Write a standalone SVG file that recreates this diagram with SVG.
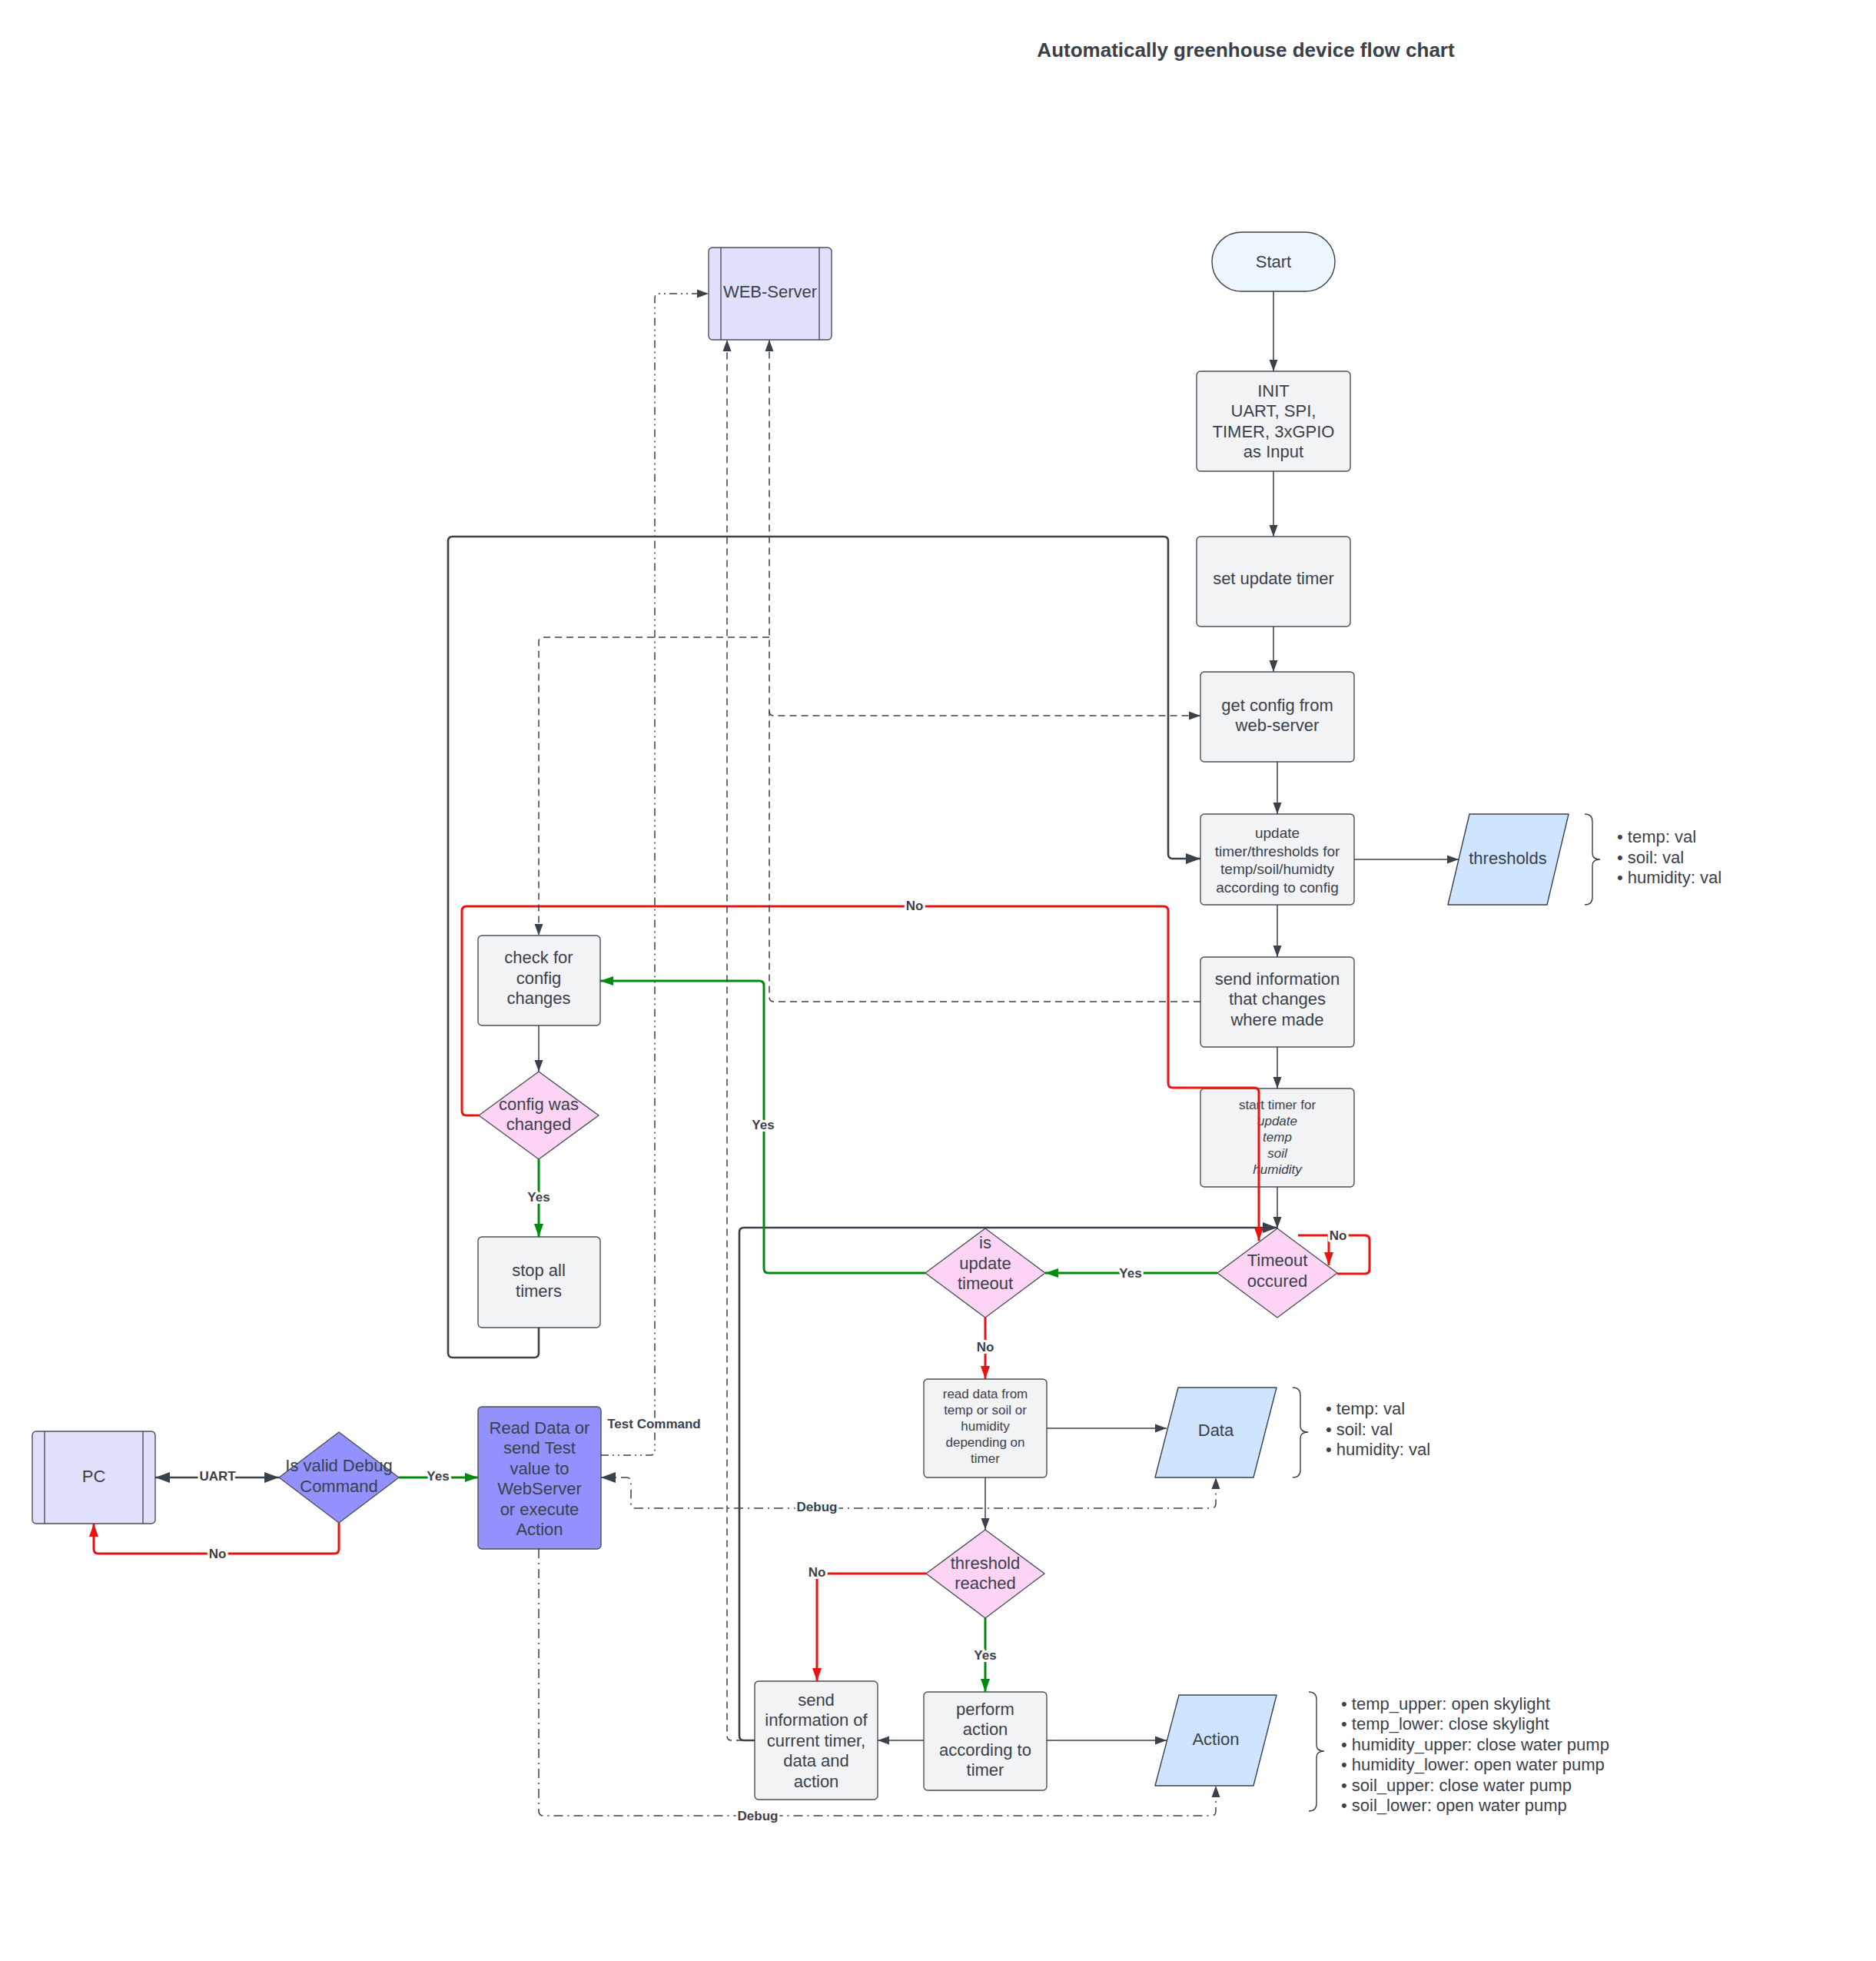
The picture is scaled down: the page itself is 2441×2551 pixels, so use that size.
<svg xmlns="http://www.w3.org/2000/svg" width="2441" height="2551" viewBox="0 0 2441 2551">
<style>
.bg{fill:#ffffff}
.proc{fill:#f2f3f5;stroke:#4b5058;stroke-width:1.4}
.dia{fill:#fdd4f3;stroke:#4b5058;stroke-width:1.4}
.io{fill:#cfe4ff;stroke:#3a414a;stroke-width:1.4}
.sub{fill:#dfe0fc;stroke:#4b5058;stroke-width:1.4}
.purp{fill:#9391fd;stroke:#4b5058;stroke-width:1.4}
.start{fill:#edf5ff;stroke:#3a414a;stroke-width:1.4}
.brace{fill:none;stroke:#3a414a;stroke-width:1.4}
text{font-family:"Liberation Sans",Arial,sans-serif;fill:#3a414a}
.t{font-size:22px;text-anchor:middle}
.t19{font-size:19px;text-anchor:middle}
.t17{font-size:17px;text-anchor:middle}
.bl{font-size:22px}
.lbl{font-size:17px;font-weight:bold;text-anchor:middle;stroke:#ffffff;stroke-width:6px;paint-order:stroke;stroke-linejoin:round}
.title{font-size:26px;font-weight:bold;text-anchor:middle}
.c{fill:none;stroke:#3a414a;stroke-width:1.5}
.ck{fill:none;stroke:#3a414a;stroke-width:2.6}
.cr{fill:none;stroke:#e81313;stroke-width:3}
.cg{fill:none;stroke:#008a0e;stroke-width:3}
.cd{fill:none;stroke:#3a414a;stroke-width:1.5;stroke-dasharray:9 6}
.cdd{fill:none;stroke:#3a414a;stroke-width:1.5;stroke-dasharray:10 5 2 5 2 5}
.cdb{fill:none;stroke:#3a414a;stroke-width:1.5;stroke-dasharray:12 6 2 6}
</style>
<defs>
<marker id="aD" markerUnits="userSpaceOnUse" markerWidth="16" markerHeight="12" refX="15" refY="6" orient="auto-start-reverse"><path d="M0,0.5 L15,6 L0,11.5 z" fill="#3a414a"/></marker>
<marker id="aK" markerUnits="userSpaceOnUse" markerWidth="20" markerHeight="16" refX="19" refY="8" orient="auto-start-reverse"><path d="M0,1 L19,8 L0,15 z" fill="#3a414a"/></marker>
<marker id="aR" markerUnits="userSpaceOnUse" markerWidth="18" markerHeight="14" refX="17" refY="7" orient="auto-start-reverse"><path d="M0,1 L17,7 L0,13 z" fill="#e81313"/></marker>
<marker id="aG" markerUnits="userSpaceOnUse" markerWidth="18" markerHeight="14" refX="17" refY="7" orient="auto-start-reverse"><path d="M0,1 L17,7 L0,13 z" fill="#008a0e"/></marker>
</defs>
<rect class="bg" x="0" y="0" width="2441" height="2551"/>
<text class="title" x="1621" y="74">Automatically greenhouse device flow chart</text>

<g id="start">
<rect class="start" x="1577" y="302" width="160" height="77" rx="38.5"/>
<text class="t" x="1657" y="348">Start</text>
</g>
<g id="init">
<rect class="proc" x="1557" y="483" width="200" height="130" rx="5"/>
<text class="t" x="1657" y="516">INIT</text>
<text class="t" x="1657" y="542">UART, SPI,</text>
<text class="t" x="1657" y="569">TIMER, 3xGPIO</text>
<text class="t" x="1657" y="595">as Input</text>
</g>
<g id="set-update-timer">
<rect class="proc" x="1557" y="698" width="200" height="117" rx="5"/>
<text class="t" x="1657" y="760">set update timer</text>
</g>
<g id="get-config">
<rect class="proc" x="1562" y="874" width="200" height="117" rx="5"/>
<text class="t" x="1662" y="925">get config from</text>
<text class="t" x="1662" y="951">web-server</text>
</g>
<g id="update-thresholds">
<rect class="proc" x="1562" y="1059" width="200" height="118" rx="5"/>
<text class="t19" x="1662" y="1090">update</text>
<text class="t19" x="1662" y="1114">timer/thresholds for</text>
<text class="t19" x="1662" y="1137">temp/soil/humidty</text>
<text class="t19" x="1662" y="1161">according to config</text>
</g>
<g id="thresholds">
<path class="io" d="M1912,1059 H2041 L2013,1177 H1884 Z" stroke-linejoin="round"/>
<text class="t" x="1962" y="1124">thresholds</text>
</g>
<g id="thresholds-list">
<path class="brace" d="M2062,1059 Q2072,1059 2072,1069 V1110 Q2072,1118 2082,1118 Q2072,1118 2072,1126 V1167 Q2072,1177 2062,1177"/>
<text class="bl" x="2104" y="1096">• temp: val</text>
<text class="bl" x="2104" y="1123">• soil: val</text>
<text class="bl" x="2104" y="1149">• humidity: val</text>
</g>
<g id="send-changes">
<rect class="proc" x="1562" y="1245" width="200" height="117" rx="5"/>
<text class="t" x="1662" y="1281">send information</text>
<text class="t" x="1662" y="1307">that changes</text>
<text class="t" x="1662" y="1334">where made</text>
</g>
<g id="start-timer">
<rect class="proc" x="1562" y="1416" width="200" height="128" rx="5"/>
<text class="t17" x="1662" y="1443">start timer for</text>
<text class="t17" x="1662" y="1464" font-style="italic">update</text>
<text class="t17" x="1662" y="1485" font-style="italic">temp</text>
<text class="t17" x="1662" y="1506" font-style="italic">soil</text>
<text class="t17" x="1662" y="1527" font-style="italic">humidity</text>
</g>
<g id="timeout-occured">
<path class="dia" d="M1662,1598 L1740,1656 L1662,1714 L1584,1656 Z" stroke-linejoin="round"/>
<text class="t" x="1662" y="1647">Timeout</text>
<text class="t" x="1662" y="1674">occured</text>
</g>
<g id="is-update-timeout">
<path class="dia" d="M1282,1598 L1360,1656 L1282,1714 L1204,1656 Z" stroke-linejoin="round"/>
<text class="t" x="1282" y="1624">is</text>
<text class="t" x="1282" y="1651">update</text>
<text class="t" x="1282" y="1677">timeout</text>
</g>
<g id="check-config">
<rect class="proc" x="622" y="1217" width="159" height="117" rx="5"/>
<text class="t" x="701" y="1253">check for</text>
<text class="t" x="701" y="1280">config</text>
<text class="t" x="701" y="1306">changes</text>
</g>
<g id="config-changed">
<path class="dia" d="M701,1394 L779,1451 L701,1508 L623,1451 Z" stroke-linejoin="round"/>
<text class="t" x="701" y="1444">config was</text>
<text class="t" x="701" y="1470">changed</text>
</g>
<g id="stop-timers">
<rect class="proc" x="622" y="1609" width="159" height="118" rx="5"/>
<text class="t" x="701" y="1660">stop all</text>
<text class="t" x="701" y="1687">timers</text>
</g>
<g id="web-server">
<rect class="sub" x="922" y="322" width="160" height="120" rx="5"/>
<line x1="938" y1="322" x2="938" y2="442" stroke="#4b5058" stroke-width="1.4"/>
<line x1="1066" y1="322" x2="1066" y2="442" stroke="#4b5058" stroke-width="1.4"/>
<text class="t" x="1002" y="387">WEB-Server</text>
</g>
<g id="pc">
<rect class="sub" x="42" y="1862" width="160" height="120" rx="5"/>
<line x1="58" y1="1862" x2="58" y2="1982" stroke="#4b5058" stroke-width="1.4"/>
<line x1="186" y1="1862" x2="186" y2="1982" stroke="#4b5058" stroke-width="1.4"/>
<text class="t" x="122" y="1928">PC</text>
</g>
<g id="valid-debug">
<path class="purp" d="M441,1863 L519,1922 L441,1981 L363,1922 Z" stroke-linejoin="round"/>
<text class="t" x="441" y="1914">Is valid Debug</text>
<text class="t" x="441" y="1941">Command</text>
</g>
<g id="read-or-send">
<rect class="purp" x="622" y="1830" width="160" height="185" rx="5"/>
<text class="t" x="702" y="1865">Read Data or</text>
<text class="t" x="702" y="1891">send Test</text>
<text class="t" x="702" y="1918">value to</text>
<text class="t" x="702" y="1944">WebServer</text>
<text class="t" x="702" y="1971">or execute</text>
<text class="t" x="702" y="1997">Action</text>
</g>
<g id="read-data">
<rect class="proc" x="1202" y="1794" width="160" height="128" rx="5"/>
<text class="t17" x="1282" y="1819">read data from</text>
<text class="t17" x="1282" y="1840">temp or soil or</text>
<text class="t17" x="1282" y="1861">humidity</text>
<text class="t17" x="1282" y="1882">depending on</text>
<text class="t17" x="1282" y="1903">timer</text>
</g>
<g id="data">
<path class="io" d="M1533,1805 H1661 L1631,1922 H1503 Z" stroke-linejoin="round"/>
<text class="t" x="1582" y="1868">Data</text>
</g>
<g id="data-list">
<path class="brace" d="M1682,1805 Q1692,1805 1692,1815 V1855 Q1692,1863 1702,1863 Q1692,1863 1692,1871 V1912 Q1692,1922 1682,1922"/>
<text class="bl" x="1725" y="1840">• temp: val</text>
<text class="bl" x="1725" y="1867">• soil: val</text>
<text class="bl" x="1725" y="1893">• humidity: val</text>
</g>
<g id="threshold-reached">
<path class="dia" d="M1282,1990 L1359,2047 L1282,2105 L1205,2047 Z" stroke-linejoin="round"/>
<text class="t" x="1282" y="2041">threshold</text>
<text class="t" x="1282" y="2067">reached</text>
</g>
<g id="send-current">
<rect class="proc" x="982" y="2187" width="160" height="154" rx="5"/>
<text class="t" x="1062" y="2219">send</text>
<text class="t" x="1062" y="2245">information of</text>
<text class="t" x="1062" y="2272">current timer,</text>
<text class="t" x="1062" y="2298">data and</text>
<text class="t" x="1062" y="2325">action</text>
</g>
<g id="perform-action">
<rect class="proc" x="1202" y="2201" width="160" height="128" rx="5"/>
<text class="t" x="1282" y="2231">perform</text>
<text class="t" x="1282" y="2257">action</text>
<text class="t" x="1282" y="2284">according to</text>
<text class="t" x="1282" y="2310">timer</text>
</g>
<g id="action">
<path class="io" d="M1534,2205 H1661 L1631,2323 H1503 Z" stroke-linejoin="round"/>
<text class="t" x="1582" y="2270">Action</text>
</g>
<g id="action-list">
<path class="brace" d="M1703,2201 Q1713,2201 1713,2211 V2270 Q1713,2278 1723,2278 Q1713,2278 1713,2286 V2346 Q1713,2356 1703,2356"/>
<text class="bl" x="1745" y="2224">• temp_upper: open skylight</text>
<text class="bl" x="1745" y="2250">• temp_lower: close skylight</text>
<text class="bl" x="1745" y="2277">• humidity_upper: close water pump</text>
<text class="bl" x="1745" y="2303">• humidity_lower: open water pump</text>
<text class="bl" x="1745" y="2330">• soil_upper: close water pump</text>
<text class="bl" x="1745" y="2356">• soil_lower: open water pump</text>
</g>

<g id="connectors">
<path class="c" d="M1657,379 V483" marker-end="url(#aD)"/>
<path class="c" d="M1657,613 V698" marker-end="url(#aD)"/>
<path class="c" d="M1657,815 V874" marker-end="url(#aD)"/>
<path class="c" d="M1662,991 V1059" marker-end="url(#aD)"/>
<path class="c" d="M1762,1118 H1898" marker-end="url(#aD)"/>
<path class="c" d="M1662,1177 V1245" marker-end="url(#aD)"/>
<path class="c" d="M1662,1362 V1416" marker-end="url(#aD)"/>
<path class="c" d="M1662,1544 V1598" marker-end="url(#aD)"/>
<path class="c" d="M701,1334 V1394" marker-end="url(#aD)"/>
<path class="c" d="M1362,1858 H1518" marker-end="url(#aD)"/>
<path class="c" d="M1282,1922 V1990" marker-end="url(#aD)"/>
<path class="c" d="M1202,2264 H1142" marker-end="url(#aD)"/>
<path class="c" d="M1362,2264 H1518" marker-end="url(#aD)"/>
<path class="ck" d="M202,1922 H363" marker-start="url(#aK)" marker-end="url(#aK)"/>

<path class="ck" d="M701,1727 V1760 Q701,1766 695,1766 H589 Q583,1766 583,1760 V704 Q583,698 589,698 H1514 Q1520,698 1520,704 V1111 Q1520,1117 1526,1117 H1562" marker-end="url(#aK)"/>
<path class="ck" d="M982,2264 H968 Q962,2264 962,2258 V1603 Q962,1597 968,1597 H1662" marker-end="url(#aK)"/>

<path class="cr" d="M623,1451 H607 Q601,1451 601,1445 V1185 Q601,1179 607,1179 H1514 Q1520,1179 1520,1185 V1409 Q1520,1415 1526,1415 H1632 Q1638,1415 1638,1421 V1614" marker-end="url(#aR)"/>
<path class="cr" d="M1740,1657 H1776 Q1782,1657 1782,1651 V1613 Q1782,1607 1776,1607 H1689"/>
<path class="cr" d="M1729,1607 V1646" marker-end="url(#aR)"/>
<path class="cr" d="M1282,1714 V1794" marker-end="url(#aR)"/>
<path class="cr" d="M1205,2047 H1069 Q1063,2047 1063,2053 V2187" marker-end="url(#aR)"/>
<path class="cr" d="M441,1981 V2015 Q441,2021 435,2021 H128 Q122,2021 122,2015 V1982" marker-end="url(#aR)"/>

<path class="cg" d="M1584,1656 H1360" marker-end="url(#aG)"/>
<path class="cg" d="M1204,1656 H1000 Q994,1656 994,1650 V1282 Q994,1276 988,1276 H781" marker-end="url(#aG)"/>
<path class="cg" d="M701,1508 V1609" marker-end="url(#aG)"/>
<path class="cg" d="M1282,2105 V2201" marker-end="url(#aG)"/>
<path class="cg" d="M519,1922 H622" marker-end="url(#aG)"/>

<path class="cd" d="M1562,1303 H1007 Q1001,1303 1001,1297 V442" marker-end="url(#aD)"/>
<path class="cd" d="M1001,829 H707 Q701,829 701,835 V1217" marker-end="url(#aD)"/>
<path class="cd" d="M1001,925 Q1001,931 1007,931 H1562" marker-end="url(#aD)"/>
<path class="cd" d="M982,2264 H952 Q946,2264 946,2258 V442" marker-end="url(#aD)"/>

<path class="cdd" d="M782,1893 H846 Q852,1893 852,1887 V388 Q852,382 858,382 H922" marker-end="url(#aD)"/>
<path class="cdb" d="M782,1922 H815 Q821,1922 821,1928 V1956 Q821,1962 827,1962 H1576 Q1582,1962 1582,1956 V1922" marker-start="url(#aK)" marker-end="url(#aD)"/>
<path class="cdb" d="M701,2015 V2356 Q701,2362 707,2362 H1576 Q1582,2362 1582,2356 V2323" marker-end="url(#aD)"/>

<text class="lbl" x="1190" y="1184">No</text>
<text class="lbl" x="993" y="1469">Yes</text>
<text class="lbl" x="1471" y="1662">Yes</text>
<text class="lbl" x="1741" y="1613">No</text>
<text class="lbl" x="701" y="1563">Yes</text>
<text class="lbl" x="1282" y="1758">No</text>
<text class="lbl" x="851" y="1858">Test Command</text>
<text class="lbl" x="283" y="1926">UART</text>
<text class="lbl" x="570" y="1926">Yes</text>
<text class="lbl" x="283" y="2027">No</text>
<text class="lbl" x="1063" y="1966">Debug</text>
<text class="lbl" x="1063" y="2051">No</text>
<text class="lbl" x="1282" y="2159">Yes</text>
<text class="lbl" x="986" y="2368">Debug</text>
</g>
</svg>
